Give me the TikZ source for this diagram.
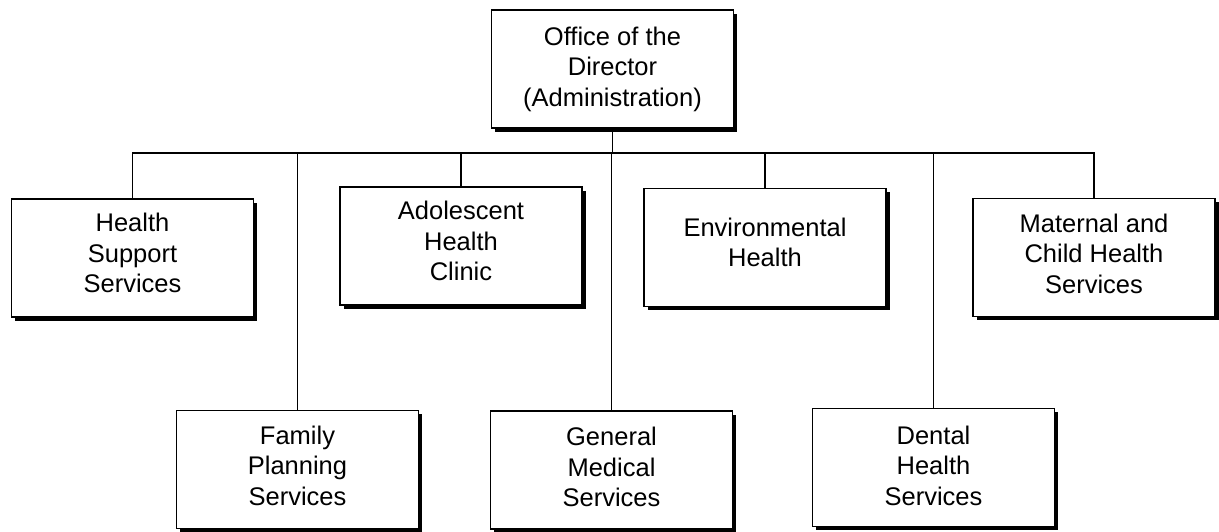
\documentclass[tikz,border=0pt]{standalone}
\usepackage{fontspec}
\setmainfont{Liberation Sans}
\usetikzlibrary{shadows}
\begin{document}
\begin{tikzpicture}[x=1pt,y=-1pt,
  orgbox/.style 2 args={draw=black, fill=white, line width=1.8pt, rectangle,
    minimum width=242pt, minimum height=118pt, inner sep=0pt,
    drop shadow={shadow xshift=3.5pt, shadow yshift=-3.5pt, fill=black, opacity=1},
    label={[yshift=#2, align=center, inner sep=0pt, font=\fontsize{25.5}{30.5}\selectfont]center:#1}},
  conn/.style={line width=1.8pt, line cap=rect}]
\useasboundingbox (0,0) rectangle (1219,531);
\fill[white] (0,0) rectangle (1219,531);
\node[orgbox={Office of the\\Director\\(Administration)}{0pt}] (dir) at (612.5,69) {};
\node[orgbox={Health\\Support\\Services}{5pt}] (hss) at (132.5,258) {};
\node[orgbox={Adolescent\\Health\\Clinic}{5pt}] (ahc) at (461,246) {};
\node[orgbox={Environmental\\Health}{5pt}] (env) at (765,247.5) {};
\node[orgbox={Maternal and\\Child Health\\Services}{4pt}] (mch) at (1094,257.5) {};
\node[orgbox={Family\\Planning\\Services}{4pt}] (fps) at (297.5,469.5) {};
\node[orgbox={General\\Medical\\Services}{3pt}] (gms) at (611.5,470) {};
\node[orgbox={Dental\\Health\\Services}{2pt}] (dhs) at (933.5,467.5) {};
\coordinate (bar) at (0,153);
\draw[conn] (dir.south) -- (dir.south |- bar);
\draw[conn] (hss.north) -- (hss.north |- bar) -- (mch.north |- bar) -- (mch.north);
\draw[conn] (ahc.north) -- (ahc.north |- bar);
\draw[conn] (env.north) -- (env.north |- bar);
\draw[conn] (fps.north) -- (fps.north |- bar);
\draw[conn] (gms.north) -- (gms.north |- bar);
\draw[conn] (dhs.north) -- (dhs.north |- bar);
\end{tikzpicture}
\end{document}
